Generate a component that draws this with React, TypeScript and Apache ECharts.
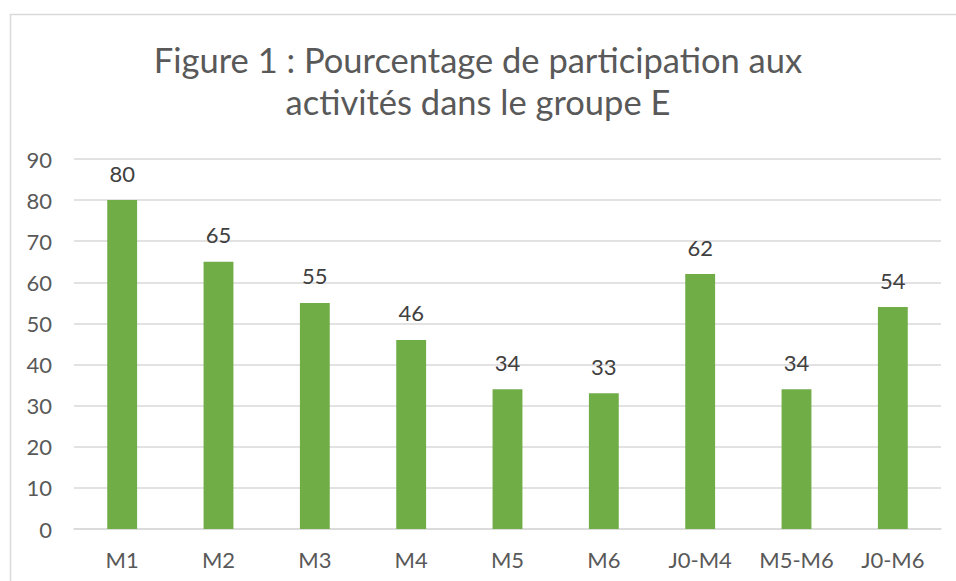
import React, { useEffect, useRef } from "react";
import * as echarts from "echarts";

const categories = ["M1", "M2", "M3", "M4", "M5", "M6", "J0-M4", "M5-M6", "J0-M6"];
const values = [80, 65, 55, 46, 34, 33, 62, 34, 54];
const titleText = "Figure 1 : Pourcentage de participation aux\nactivités dans le groupe E";

const FONT = "Lato";
const TEXT = "#595959";

export default function App() {
  const ref = useRef<HTMLDivElement>(null);
  useEffect(() => {
    document.body.style.margin = "0";
    const chart = echarts.init(ref.current!, null, { renderer: "svg" });
    chart.setOption({
      animation: false,
      backgroundColor: "#ffffff",
      graphic: [
        {
          type: "rect",
          shape: { x: 10.5, y: 14.5, width: 1000, height: 1000 },
          style: { fill: "none", stroke: "#d9d9d9", lineWidth: 1.5 },
          silent: true,
        },
      ],
      title: {
        text: titleText,
        left: "center",
        top: 33,
        textStyle: {
          fontFamily: FONT,
          fontSize: 34.5,
          fontWeight: "normal",
          color: TEXT,
          lineHeight: 42,
        },
      },
      grid: { left: 74, right: 15, top: 159, bottom: 52 },
      xAxis: {
        type: "category",
        data: categories,
        axisLine: { lineStyle: { color: "#d9d9d9", width: 1.5 } },
        axisTick: { show: false },
        axisLabel: { color: TEXT, fontFamily: FONT, fontSize: 22, margin: 19, interval: 0, hideOverlap: false },
      },
      yAxis: {
        type: "value",
        min: 0,
        max: 90,
        interval: 10,
        axisLine: { show: false },
        axisTick: { show: false },
        splitLine: { lineStyle: { color: "#d9d9d9", width: 1.5 } },
        axisLabel: { color: TEXT, fontFamily: FONT, fontSize: 22, margin: 22 },
      },
      series: [
        {
          type: "bar",
          data: values,
          barWidth: "31%",
          itemStyle: { color: "#70ad47" },
          label: {
            show: true,
            position: "top",
            distance: 16,
            color: "#404040",
            fontFamily: FONT,
            fontSize: 22,
          },
        },
      ],
    });
    return () => chart.dispose();
  }, []);
  return <div ref={ref} style={{ position: "absolute", left: 0, top: 0, width: 956, height: 581 }} />;
}
